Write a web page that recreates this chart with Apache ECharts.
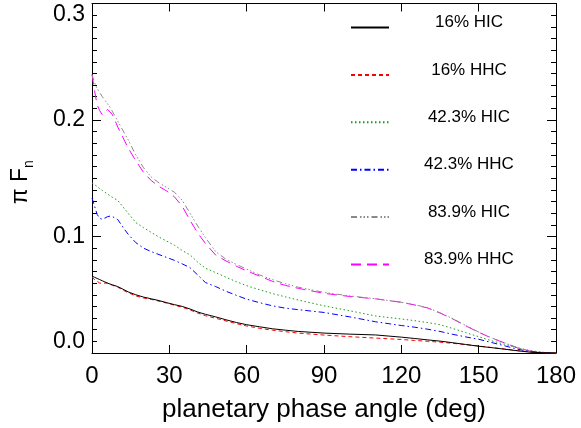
<!DOCTYPE html>
<html>
<head>
<meta charset="utf-8">
<script src="https://cdn.jsdelivr.net/npm/echarts@6/dist/echarts.min.js"></script>
<style>html,body{margin:0;padding:0;background:#fff;}#c{width:581px;height:428px;}</style>
</head>
<body>
<div id="c"></div>
<script>
const angles = [0,1,2,3,4,5,6,7,8,10,12,14,17,20,23,26,29,32,35,38,41,44,48,52,56,60,65,70,75,80,90,100,110,120,125,130,135,140,145,150,155,160,165,170,175,180];
const hic16  = [0.066,0.065,0.064,0.063,0.062,0.061,0.060,0.0592,0.0585,0.057,0.0548,0.0525,0.050,0.048,0.0465,0.045,0.0432,0.0415,0.040,0.0378,0.0352,0.0332,0.031,0.0285,0.0262,0.0243,0.0225,0.0208,0.0196,0.0185,0.0171,0.0162,0.0155,0.0136,0.0125,0.0113,0.0102,0.0088,0.0073,0.0058,0.0046,0.0033,0.0019,0.0007,0.0002,0];
const hhc16  = [0.065,0.063,0.0615,0.060,0.0598,0.060,0.060,0.059,0.058,0.0565,0.054,0.0518,0.049,0.0472,0.046,0.0445,0.0428,0.041,0.0393,0.037,0.0343,0.032,0.0298,0.0275,0.0252,0.0232,0.0212,0.0196,0.0183,0.0171,0.0154,0.014,0.0128,0.0116,0.0108,0.0101,0.0093,0.0083,0.0072,0.006,0.0047,0.0034,0.0021,0.0009,0.0002,0];
const hic42  = [0.146,0.1445,0.143,0.141,0.1395,0.138,0.1365,0.135,0.1335,0.131,0.1255,0.12,0.112,0.1075,0.1035,0.0995,0.096,0.0925,0.088,0.0843,0.078,0.0728,0.069,0.065,0.0612,0.0578,0.0543,0.051,0.0482,0.0455,0.0405,0.0362,0.0318,0.0292,0.0278,0.0262,0.0243,0.021,0.0175,0.014,0.0105,0.0075,0.0045,0.002,0.0006,0];
const hhc42  = [0.133,0.126,0.119,0.1155,0.1148,0.1158,0.117,0.1175,0.117,0.1145,0.108,0.102,0.0947,0.090,0.087,0.0845,0.082,0.0795,0.0765,0.0733,0.067,0.0605,0.057,0.053,0.0495,0.0462,0.0432,0.0405,0.0385,0.0372,0.0348,0.031,0.0268,0.0236,0.0222,0.0205,0.0185,0.016,0.0138,0.0118,0.009,0.0062,0.0033,0.0012,0.0003,0];
const hic84  = [0.239,0.232,0.227,0.2235,0.220,0.217,0.214,0.211,0.207,0.199,0.191,0.183,0.170,0.159,0.151,0.146,0.142,0.138,0.131,0.12,0.109,0.099,0.087,0.0805,0.076,0.072,0.067,0.063,0.0595,0.0565,0.052,0.049,0.0465,0.0436,0.0415,0.039,0.0345,0.0295,0.0235,0.018,0.013,0.0088,0.0045,0.0015,0.0004,0];
const hhc84  = [0.239,0.225,0.213,0.208,0.2045,0.207,0.209,0.207,0.2043,0.194,0.185,0.176,0.165,0.155,0.148,0.143,0.139,0.134,0.126,0.114,0.103,0.094,0.084,0.079,0.0745,0.0705,0.066,0.0615,0.058,0.0555,0.0512,0.0485,0.0465,0.0435,0.0413,0.0388,0.0343,0.0292,0.0233,0.0178,0.0128,0.0087,0.0045,0.0016,0.0004,0];
const seriesNames = ['16% HIC','16% HHC','42.3% HIC','42.3% HHC','83.9% HIC','83.9% HHC'];
const seriesValues = [hic16, hhc16, hic42, hhc42, hic84, hhc84];
const xTicks = [0,30,60,90,120,150,180];
const yTicks = [0.0,0.1,0.2,0.3];

const colors = ['#000000','#ff0000','#1a9a1a','#0000ff','#8a8a8a','#ff00ff'];
const dashes = ['solid',[4,3],[1.5,2.5],[6,3,1.5,3],[6,3,1.5,2,1.5,2,1.5,3],[10,6]];
const FONT = '"Liberation Sans", Arial, Helvetica, sans-serif';

const chart = echarts.init(document.getElementById('c'), null, {renderer:'canvas'});
const axisLine = {show:true, onZero:false, lineStyle:{color:'#000', width:1}};
const yMin = yTicks[0], yMax = yTicks[yTicks.length-1];
function minorAxis(pos){
  return {type:'value', min:yMin, max:yMax, interval:0.01, position:pos,
    axisLine:{show:false, onZero:false}, axisTick:{show:true, inside:true, length:5, lineStyle:{color:'#000'}},
    axisLabel:{show:false}, splitLine:{show:false}};
}
const option = {
  animation:false,
  backgroundColor:'#fff',
  textStyle:{fontFamily:FONT},
  grid:{left:92, right:25, top:3.5, bottom:74, containLabel:false},
  legend:{
    orient:'vertical', left:350, top:14, padding:0,
    itemWidth:38, itemHeight:14, itemGap:20.4,
    data:seriesNames,
    itemStyle:{opacity:0},
    formatter:n=>'{t|'+n+'}',
    textStyle:{fontFamily:FONT, color:'#000', rich:{t:{width:150, align:'center', fontSize:17, lineHeight:20, padding:[0,0,10,0], fontFamily:FONT, color:'#000'}}}
  },
  xAxis:[{
    type:'value', min:xTicks[0], max:xTicks[xTicks.length-1], interval:30, position:'bottom',
    axisLine, axisTick:{show:true, inside:true, length:8, lineStyle:{color:'#000'}},
    axisLabel:{fontSize:24, color:'#000', margin:11, fontFamily:FONT},
    splitLine:{show:false},
    name:'planetary phase angle (deg)', nameLocation:'middle', nameGap:44,
    nameTextStyle:{fontSize:26, color:'#000', fontFamily:FONT}
  },{
    type:'value', min:xTicks[0], max:xTicks[xTicks.length-1], interval:30, position:'top',
    axisLine, axisTick:{show:true, inside:true, length:8, lineStyle:{color:'#000'}},
    axisLabel:{show:false}, splitLine:{show:false}
  }],
  yAxis:[{
    type:'value', min:yMin, max:yMax, interval:0.1, position:'left',
    axisLine, axisTick:{show:true, inside:true, length:9, lineStyle:{color:'#000'}},
    axisLabel:{fontSize:23, color:'#000', margin:7, fontFamily:FONT, formatter:v=>v.toFixed(1),
      verticalAlignMinLabel:'bottom', verticalAlignMaxLabel:'top'},
    splitLine:{show:false},
    name:'{a|π F}{b|n}', nameLocation:'middle', nameGap:56,
    nameTextStyle:{fontFamily:FONT, color:'#000', rich:{a:{fontSize:23, fontFamily:FONT, color:'#000', lineHeight:30}, b:{fontSize:14, fontFamily:FONT, color:'#000', verticalAlign:'bottom', lineHeight:30, padding:[12,8,0,0]}}}
  },{
    type:'value', min:yMin, max:yMax, interval:0.1, position:'right',
    axisLine, axisTick:{show:true, inside:true, length:9, lineStyle:{color:'#000'}},
    axisLabel:{show:false}, splitLine:{show:false}
  }, minorAxis('left'), minorAxis('right')],
  series: seriesNames.map((n,i)=>({
    name:n, type:'line', xAxisIndex:0, yAxisIndex:0,
    symbol:'none', showSymbol:false, smooth:false,
    data: angles.map((a,j)=>[a, seriesValues[i][j]]),
    lineStyle:{color:colors[i], width:1, type:dashes[i]},
    itemStyle:{color:colors[i]},
    z: 10 - i
  }))
};
chart.setOption(option);
</script>
</body>
</html>
